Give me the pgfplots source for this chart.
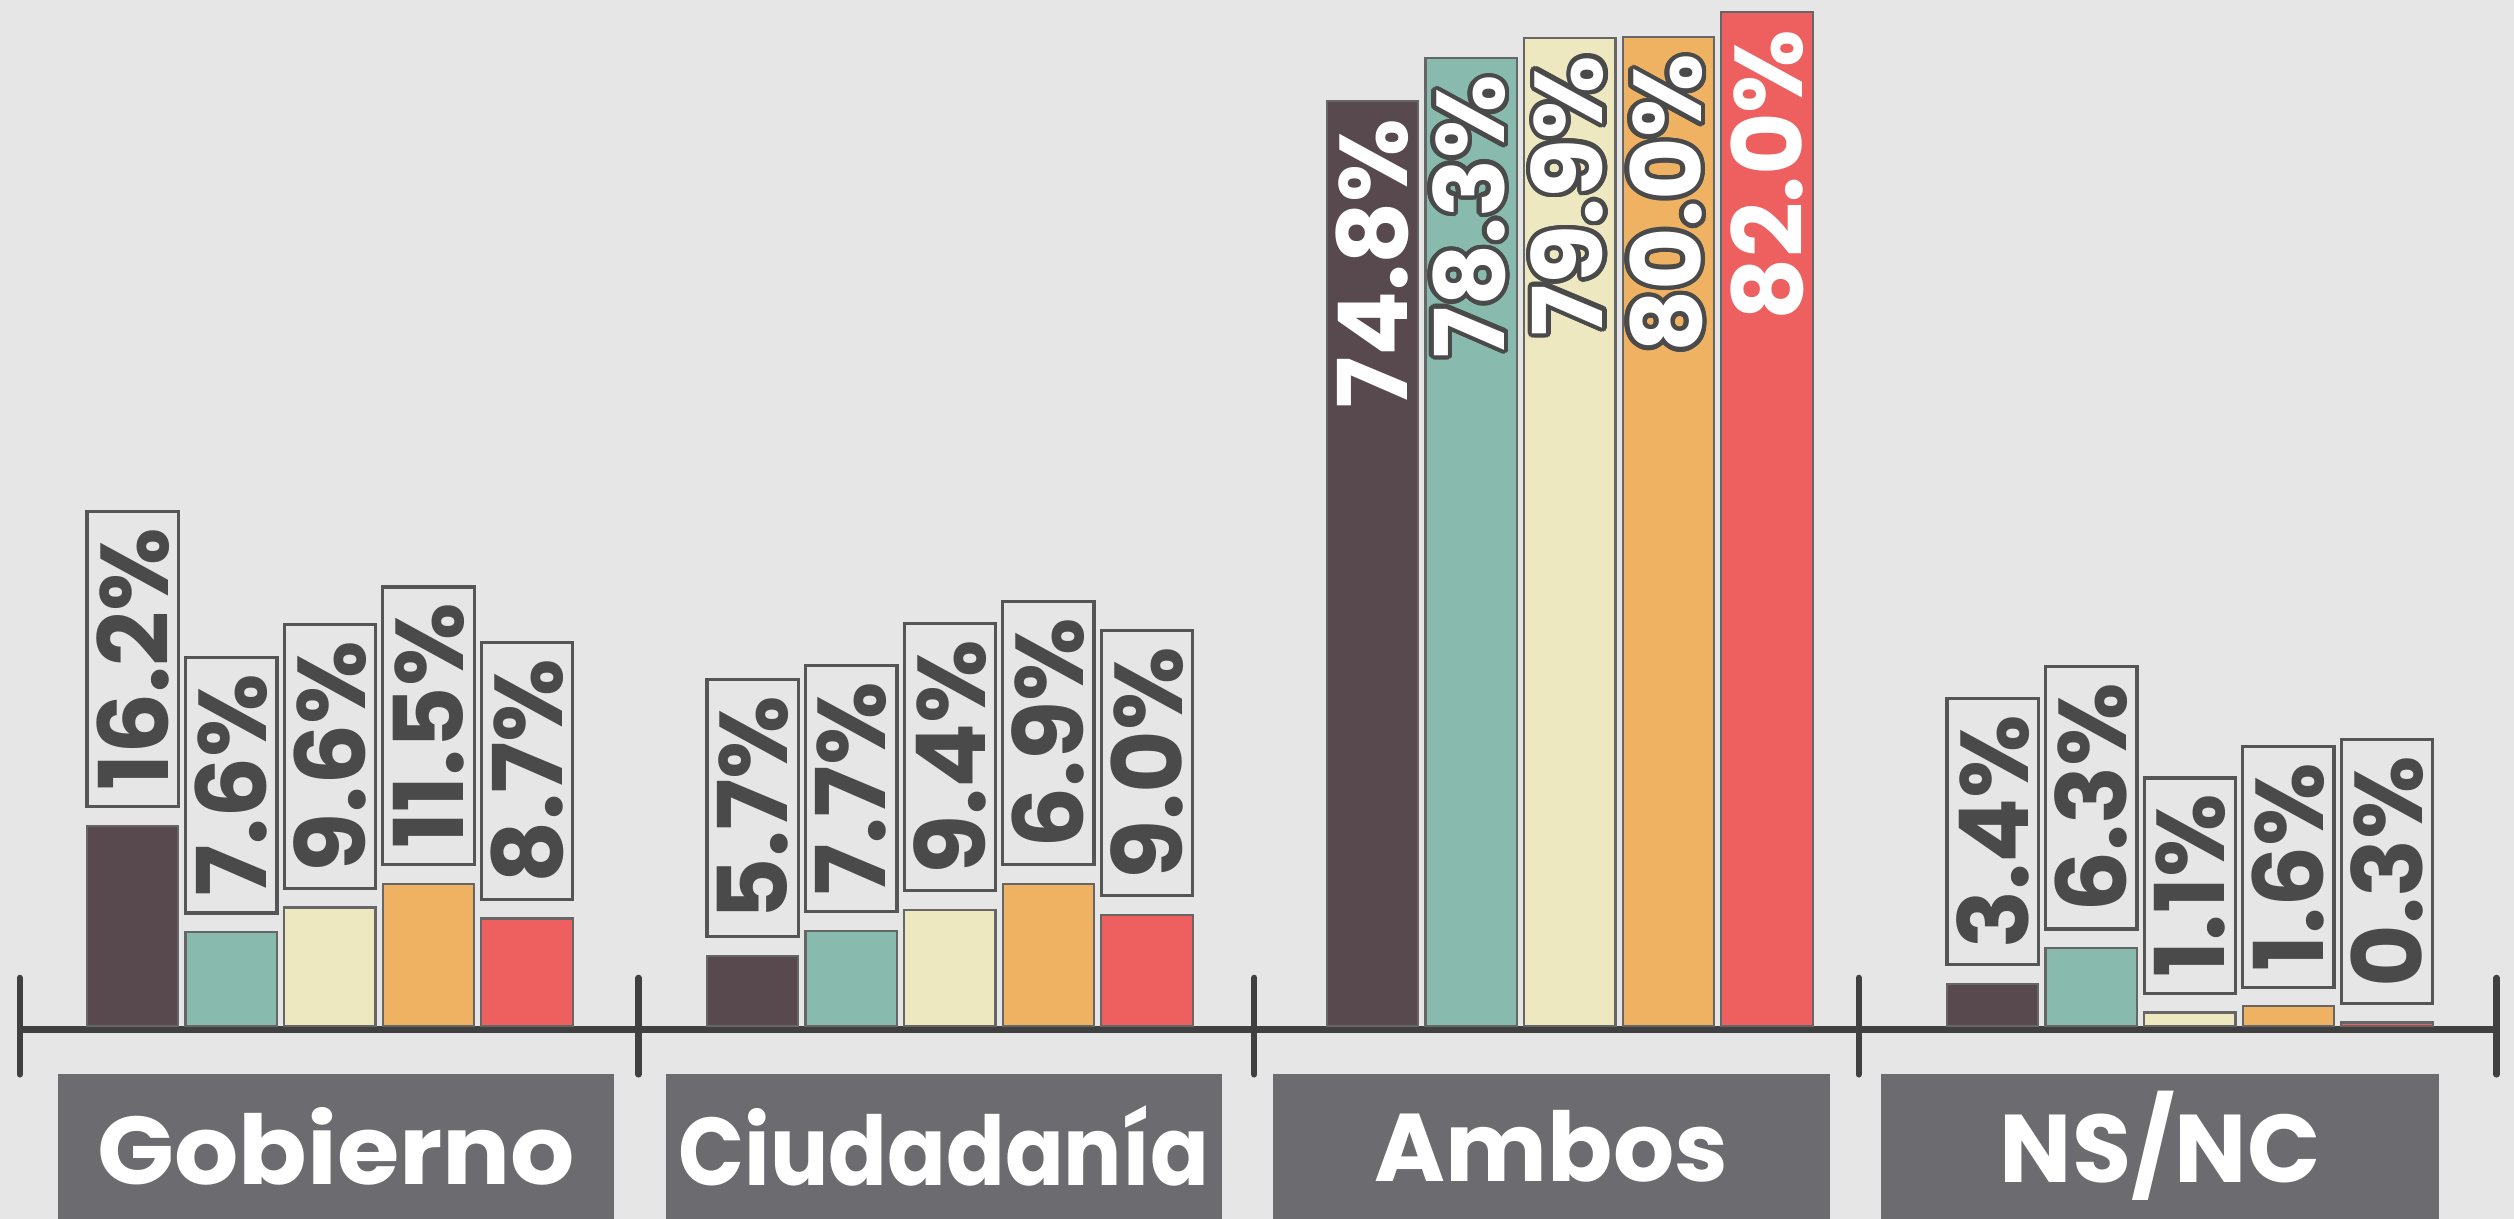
\documentclass[border=0pt]{standalone}
\usepackage{fontspec}
\setmainfont{Poppins}
\usepackage{graphicx}
\usepackage{pgfplots}
\pgfplotsset{compat=1.18}
\usepackage[copies]{contour}
\contourlength{0.7pt}
\contournumber{24}
\definecolor{bg}{HTML}{E6E6E6}
\definecolor{cA}{HTML}{58494F}
\definecolor{cB}{HTML}{88BBAE}
\definecolor{cC}{HTML}{EEE8C0}
\definecolor{cD}{HTML}{EEB262}
\definecolor{cE}{HTML}{EE5F5F}
\definecolor{barline}{HTML}{666666}
\definecolor{labline}{HTML}{555555}
\definecolor{labdark}{HTML}{4A4A4A}
\definecolor{catbox}{HTML}{6B6B70}
\definecolor{axisline}{HTML}{404040}
\pgfkeys{/pgf/number format/.cd, fixed, fixed zerofill, precision=1, assume math mode=true}
\newcommand{\valfont}{\bfseries\fontsize{15}{15}\selectfont}
\newcommand{\catfont}{\bfseries\fontsize{15}{15}\selectfont}
\tikzset{sepline/.style={draw=axisline, line width=1pt, line cap=round}}
\pgfplotsset{
  vbar/.style={ybar, bar width=0.1474, bar shift=0pt, draw=barline, line width=0.35pt, fill=#1},
  boxlab/.style={nodes near coords={\pgfmathprintnumber{\pgfplotspointmeta}\%},
    every node near coord/.append style={rotate=90, anchor=west, draw=labline, line width=0.5pt,
      text=labdark, font=\valfont, minimum height=14.25pt, inner xsep=2.5pt, inner ysep=0pt, outer xsep=3pt}},
  inlab/.style={nodes near coords={\pgfmathprintnumber{\pgfplotspointmeta}\%},
    every node near coord/.append style={rotate=90, anchor=east, text=white, font=\valfont,
      inner xsep=2.5pt, inner ysep=0pt}},
  outlab/.style={nodes near coords={\contour{labdark}{\pgfmathprintnumber{\pgfplotspointmeta}\%}},
    every node near coord/.append style={rotate=90, anchor=east, text=white, font=\valfont,
      inner xsep=2.5pt, inner ysep=0pt}},
}

\begin{document}
\begin{tikzpicture}
\begin{axis}[
    width=392pt, height=190pt, scale only axis,
    xmin=-0.532, xmax=3.523, ymin=-15.56, ymax=83,
    hide axis, clip=false]
\fill[bg] (axis cs:-0.532,-15.56) rectangle (axis cs:3.523,83);
% baseline sits just under the bars
\draw[axisline, line width=1pt] (axis cs:-0.5,-0.26) -- (axis cs:3.495,-0.26);

% Gobierno, Ciudadania, NS/NC (label boxes above the bars)
\addplot[vbar=cA, boxlab] coordinates {(-0.318,16.2) (0.682,5.7) (2.682,3.4)};
\addplot[vbar=cB, boxlab] coordinates {(-0.159,7.6) (0.841,7.7) (2.841,6.3)};
\addplot[vbar=cC, boxlab] coordinates {(0,9.6) (1,9.4) (3,1.1)};
% the 6.9% bar is drawn as tall as 11.5% in the original
\addplot[vbar=cD, boxlab, point meta=explicit] coordinates {(0.159,11.5) [11.5] (1.159,11.5) [6.9] (3.159,1.6) [1.6]};
\addplot[vbar=cE, boxlab] coordinates {(0.318,8.7) (1.318,9.0) (3.318,0.3)};

% Ambos (labels inside the bars)
\addplot[vbar=cA, inlab] coordinates {(1.682,74.8)};
\addplot[vbar=cB, outlab] coordinates {(1.841,78.3)};
\addplot[vbar=cC, outlab] coordinates {(2,79.9)};
\addplot[vbar=cD, outlab] coordinates {(2.159,80.0)};
\addplot[vbar=cE, inlab] coordinates {(2.318,82.0)};

% separators
\draw[sepline] (axis cs:-0.5,3.9) -- (axis cs:-0.5,-3.9);
\draw[sepline] (axis cs:0.498,3.9) -- (axis cs:0.498,-3.9);
\draw[sepline] (axis cs:1.491,3.9) -- (axis cs:1.491,-3.9);
\draw[sepline] (axis cs:2.466,3.9) -- (axis cs:2.466,-3.9);
\draw[sepline] (axis cs:3.495,3.9) -- (axis cs:3.495,-3.9);

% category boxes
\fill[catbox] (axis cs:-0.438,-3.89) rectangle (axis cs:0.459,-15.56);
\fill[catbox] (axis cs:0.542,-3.89) rectangle (axis cs:1.439,-15.56);
\fill[catbox] (axis cs:1.522,-3.89) rectangle (axis cs:2.419,-15.56);
\fill[catbox] (axis cs:2.502,-3.89) rectangle (axis cs:3.402,-15.56);
\node[text=white, font=\catfont] at (axis cs:0.0105,-9.7) {\scalebox{1.05}[1]{Gobierno}};
\node[text=white, font=\catfont] at (axis cs:0.9905,-9.7) {\scalebox{0.9}[1]{Ciudadanía}};
\node[text=white, font=\catfont] at (axis cs:1.9705,-9.7) {Ambos};
\node[text=white, font=\catfont] at (axis cs:2.952,-9.7) {NS/NC};
\end{axis}
\pgfresetboundingbox
\path[use as bounding box] (current axis.south west) rectangle (current axis.north east);
\end{tikzpicture}
\end{document}
